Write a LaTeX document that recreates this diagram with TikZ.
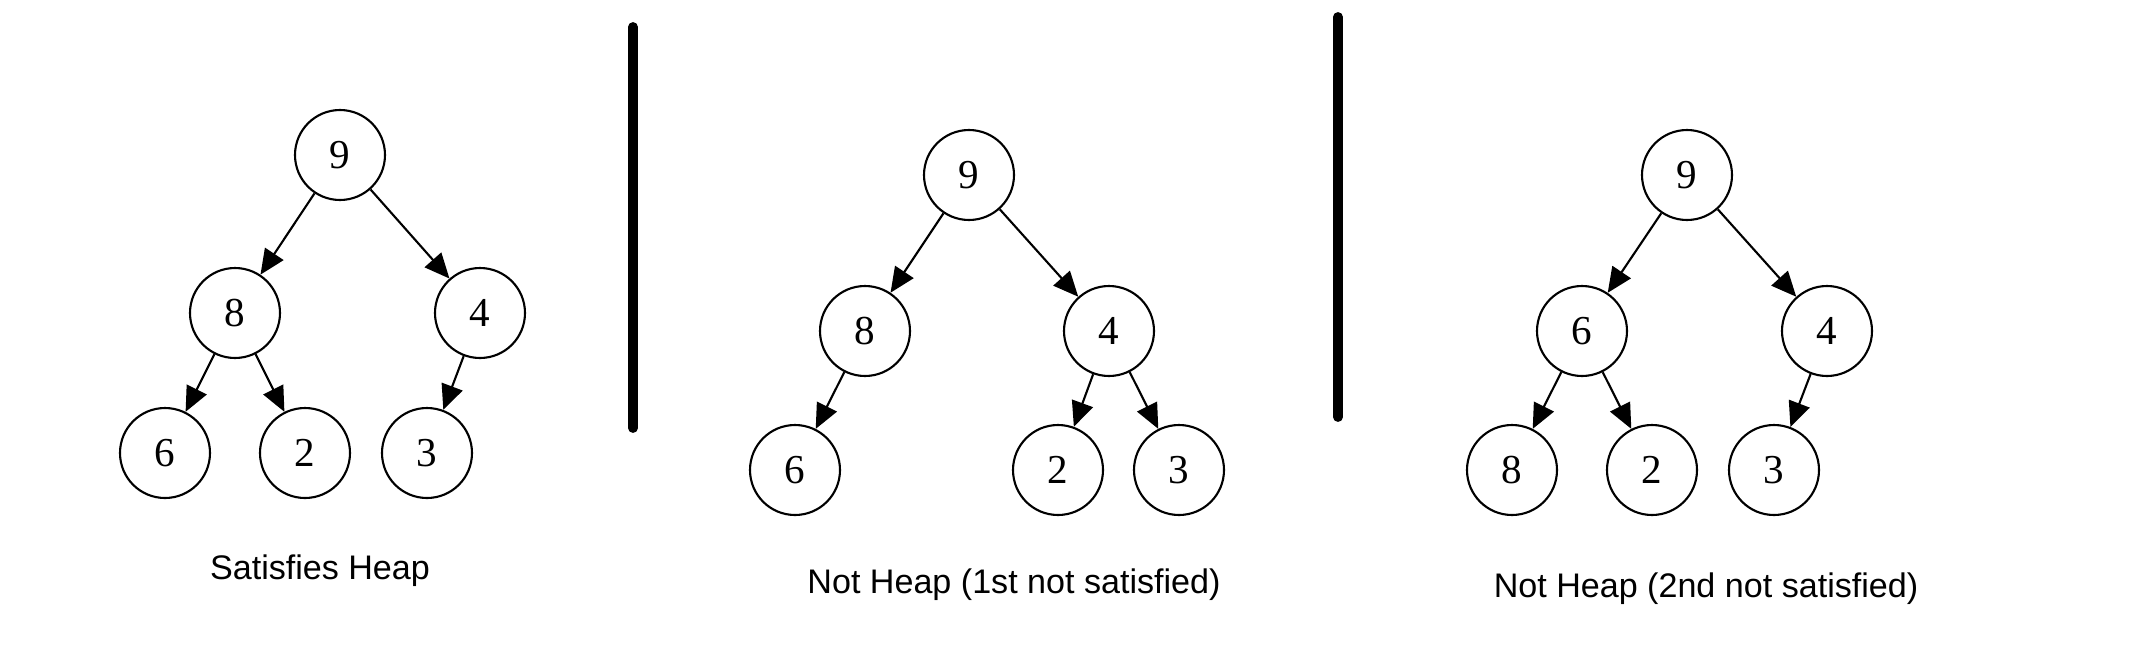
\documentclass[tikz,border=0pt]{standalone}
\usepackage{fontspec}
\setmainfont{Liberation Serif}
\newfontfamily\capfont{Liberation Sans}
\usetikzlibrary{arrows.meta}

\begin{document}
\begin{tikzpicture}[>={Triangle[length=2.5mm,width=2.2mm]}, hn/.style={draw, circle, line width=0.6pt, minimum size=9mm, inner sep=0pt, font=\fontsize{11.7}{14}\selectfont}, heaplbl/.style={anchor=base, font=\capfont\fontsize{9.7}{12}\selectfont}, bar/.style={line width=2.8pt, line cap=round}]
	\useasboundingbox (0,0) rectangle (21.44,-6.52);
	% left tree: satisfies heap
	\node[hn] (L9) at (3.40,-1.55) {9};
	\node[hn] (L8) at (2.35,-3.13) {8};
	\node[hn] (L4) at (4.80,-3.13) {4};
	\node[hn] (L6) at (1.65,-4.53) {6};
	\node[hn] (L2) at (3.05,-4.53) {2};
	\node[hn] (L3) at (4.27,-4.53) {3};
	\node[heaplbl] (Llbl) at (3.20,-5.79) {Satisfies Heap};
	% middle tree
	\node[hn] (M9) at (9.69,-1.75) {9};
	\node[hn] (M8) at (8.65,-3.31) {8};
	\node[hn] (M4) at (11.09,-3.31) {4};
	\node[hn] (M6) at (7.95,-4.70) {6};
	\node[hn] (M2) at (10.58,-4.70) {2};
	\node[hn] (M3) at (11.79,-4.70) {3};
	\node[heaplbl] (Mlbl) at (10.14,-5.93) {Not Heap (1st not satisfied)};
	% right tree
	\node[hn] (R9) at (16.87,-1.75) {9};
	\node[hn] (R6) at (15.82,-3.31) {6};
	\node[hn] (R4) at (18.27,-3.31) {4};
	\node[hn] (R8) at (15.12,-4.70) {8};
	\node[hn] (R2) at (16.52,-4.70) {2};
	\node[hn] (R3) at (17.74,-4.70) {3};
	\node[heaplbl] (Rlbl) at (17.06,-5.97) {Not Heap (2nd not satisfied)};
	\foreach \p/\c in {L9/L8, L9/L4, L8/L6, L8/L2, L4/L3, M9/M8, M9/M4, M8/M6, M4/M2, M4/M3, R9/R6, R9/R4, R6/R8, R6/R2, R4/R3}
		\draw[->, line width=0.6pt] (\p) -- (\c);
	% separators
	\draw[bar] (6.33,-0.27) -- (6.33,-4.28);
	\draw[bar] (13.38,-0.17) -- (13.38,-4.17);
\end{tikzpicture}
\end{document}
